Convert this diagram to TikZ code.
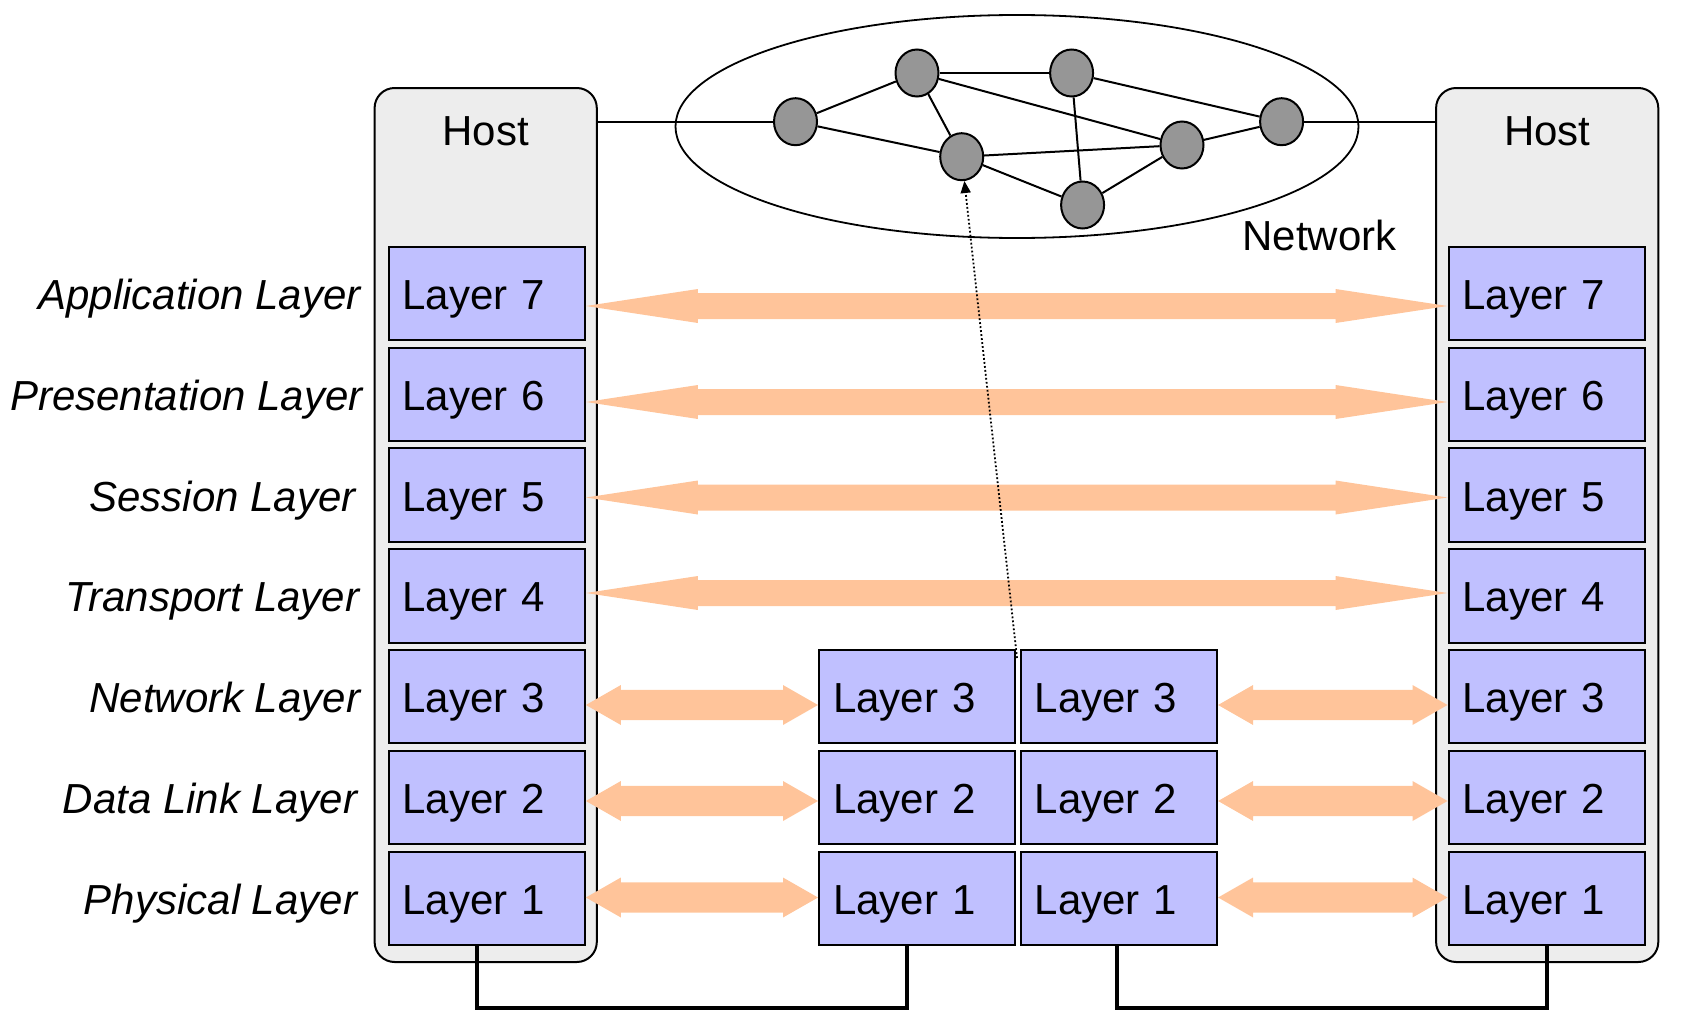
\documentclass[tikz,border=0pt]{standalone}
\usepackage{fontspec}
\setmainfont{Liberation Sans}
\usetikzlibrary{arrows.meta,calc,shapes.geometric}
\definecolor{peach}{RGB}{255,196,154}
\definecolor{lav}{RGB}{192,192,255}
\definecolor{hostgray}{RGB}{237,237,237}
\definecolor{nodegray}{RGB}{150,150,150}
% #1 start node anchor, #2 end node anchor, #3 shaft half width, #4 head half width,
% #5 head length, #6 vertical position of the arrow axis
\newcommand\biarrow[6]{%
  \fill[peach] let \p1=(#1), \p2=(#2), \p3=(0,#6) in
    (\x1,\y3) -- (\x1+#5,\y3+#4) -- (\x1+#5,\y3+#3) -- (\x2-#5,\y3+#3)
    -- (\x2-#5,\y3+#4) -- (\x2,\y3) -- (\x2-#5,\y3-#4) -- (\x2-#5,\y3-#3)
    -- (\x1+#5,\y3-#3) -- (\x1+#5,\y3-#4) -- cycle;}
\begin{document}
\begin{tikzpicture}[x=0.5pt,y=-0.5pt,
  font=\fontsize{21}{25}\selectfont,
  hostbox/.style={draw, line width=1pt, fill=hostgray, rounded corners=10pt,
    minimum width=111.1pt, minimum height=437pt, inner sep=0pt},
  layerbox/.style={draw, line width=1pt, fill=lav, minimum width=98.2pt,
    minimum height=46.7pt, text width=84.2pt, inner xsep=7pt, inner ysep=0pt,
    align=left, text height=16pt, text depth=0pt},
  sidelabel/.style={anchor=base east, inner sep=0pt, font=\fontsize{21}{25}\selectfont\itshape},
  plainlabel/.style={inner sep=0pt},
  netnode/.style={draw, ellipse, fill=nodegray, line width=1pt,
    minimum width=21.5pt, minimum height=23.5pt, inner sep=0pt},
  netline/.style={line width=1pt},
  wire/.style={line width=2pt},
  dotline/.style={line width=0.9pt, dash pattern=on 0.9pt off 1.1pt,
    -{Triangle[length=6pt,width=5pt]}}
]
\useasboundingbox (0,0) rectangle (1683,1012);

% hosts
\node[hostbox] (hostL) at (485.7,525) {};
\node[hostbox] (hostR) at (1547.2,525) {};
\node[plainlabel, anchor=base] (hostLlab) at (485.7,145) {Host};
\node[plainlabel, anchor=base] (hostRlab) at (1547.2,145) {Host};

% layer boxes
\foreach \k/\y in {7/293.5,6/394.3,5/495.1,4/595.9,3/696.7,2/797.5,1/898.3}{
  \node[layerbox] (lft\k) at (486.7,\y) {Layer \k};
  \node[layerbox] (rgt\k) at (1546.7,\y) {Layer \k};
}
\foreach \k/\y in {3/696.7,2/797.5,1/898.3}{
  \node[layerbox] (midl\k) at (917.2,\y) {Layer \k};
  \node[layerbox] (midr\k) at (1118.9,\y) {Layer \k};
}

% side labels
\node[sidelabel] (labA) at (361,309.5) {Application Layer};
\node[sidelabel] (labP) at (363,410.3) {Presentation Layer};
\node[sidelabel] (labS) at (356,511.1) {Session Layer};
\node[sidelabel] (labT) at (359.5,611.9) {Transport Layer};
\node[sidelabel] (labN) at (360.5,712.7) {Network Layer};
\node[sidelabel] (labD) at (357.5,813.5) {Data Link Layer};
\node[sidelabel] (labPh) at (357.5,914.3) {Physical Layer};

% long arrows
\foreach \k/\ay in {7/306,6/402,5/497.5,4/593}{
  \biarrow{lft\k.east}{rgt\k.west}{6.5pt}{8.5pt}{56pt}{\ay}
}
% short arrows
\foreach \k/\ay in {3/705,2/801,1/897.5}{
  \biarrow{lft\k.east}{midl\k.west}{7.6pt}{10pt}{17.5pt}{\ay}
  \biarrow{midr\k.east}{rgt\k.west}{7.6pt}{10pt}{17.5pt}{\ay}
}

% network
\node[draw, ellipse, line width=0.9pt, minimum width=341.5pt, minimum height=111.5pt,
  inner sep=0pt] (net) at (1017,126.5) {};
\node[plainlabel, anchor=base west] (netlab) at (1242,250.7) {Network};
\node[netnode] (n1) at (795.5,121.7) {};
\node[netnode] (n2) at (917,73) {};
\node[netnode] (n3) at (1071.6,73) {};
\node[netnode] (n4) at (961.7,156.7) {};
\node[netnode] (n5) at (1182,145) {};
\node[netnode] (n6) at (1281.6,121.7) {};
\node[netnode] (n7) at (1082.6,205) {};
\foreach \a/\b in {n1/n2,n1/n4,n2/n3,n2/n4,n2/n5,n3/n6,n3/n7,n4/n5,n4/n7,n7/n5,n5/n6}{
  \draw[netline] (\a) -- (\b);
}
\draw[netline] (hostL.east |- n1) -- (n1);
\draw[netline] (n6) -- (hostR.west |- n6);

% physical wires
\draw[wire] ([xshift=-5pt]lft1.south) -- ++(0,62) -| ([xshift=-5pt]midl1.south);
\draw[wire] ([xshift=-1.2pt]midr1.south) -- ++(0,62) -| (rgt1.south);

% dotted arrow
\coordinate (dstart) at (1017,658);
\draw[dotline] (dstart) -- (n4);
\end{tikzpicture}
\end{document}
